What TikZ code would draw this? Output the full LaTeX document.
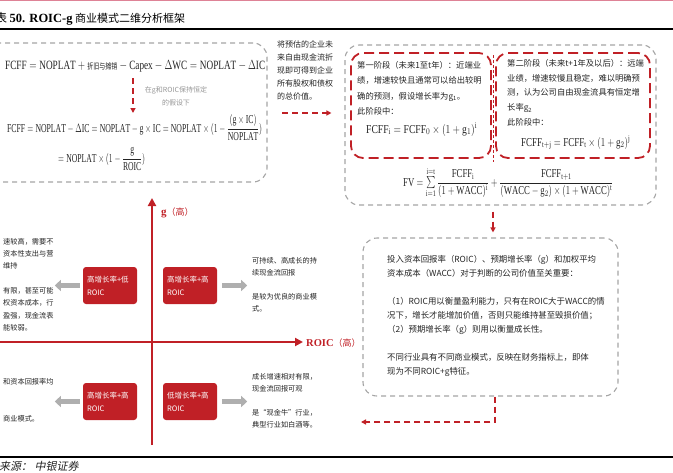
\documentclass[tikz,border=0pt]{standalone}
\usepackage{amsmath}
\usepackage{graphicx}
\usepackage{fontspec}
\setmainfont{Liberation Serif}
\newfontfamily\cjk{Noto Sans CJK SC}
\newfontfamily\cjkslant[FakeSlant=0.2]{Noto Sans CJK SC}
\usepackage{xcolor}
\usetikzlibrary{positioning}
\usetikzlibrary{arrows.meta}

\definecolor{roicred}{RGB}{192,32,38}
\definecolor{dashgray}{RGB}{165,165,165}
\definecolor{arrowgray}{RGB}{175,175,175}
\definecolor{notegray}{RGB}{150,150,150}
\definecolor{inktext}{RGB}{35,35,35}
\definecolor{pinkline}{RGB}{222,130,150}

\newcommand{\fs}[2]{\fontsize{#1}{#2}\selectfont}
\newcommand{\ur}[1]{\mathrm{#1}}
\newcommand{\fitw}[2]{\resizebox{#1}{1.1\height}{#2}}

\tikzset{
  graybox/.style={draw=dashgray, line width=1.1pt, dash pattern=on 5pt off 4pt, rounded corners=14pt},
  stagebox/.style={draw=roicred, line width=1.8pt, dash pattern=on 10pt off 5pt, rounded corners=12pt},
  redarrow/.style={draw=roicred, line width=1.4pt, dash pattern=on 6pt off 4pt, -{Triangle[width=5pt,length=5pt]}},
  axisline/.style={draw=roicred, line width=2.2pt, -{Triangle[width=8pt,length=8pt]}},
  grayarrow/.style={draw=arrowgray, line width=5pt, -{Triangle[width=11pt,length=6pt]}},
  quadbox/.style={fill=roicred, rounded corners=3pt, text=white, minimum width=54pt, minimum height=37pt,
    text width=46pt, align=left, inner sep=4pt, font=\cjk\fs{7.5}{13}},
  note/.style={anchor=north west, inner sep=0pt, align=left, text=inktext},
  formula/.style={anchor=base west, inner sep=0pt, text=inktext}
}

\begin{document}
\begin{tikzpicture}[x=1pt,y=-1pt]
  \useasboundingbox (0,0) rectangle (673,472);

  % title
  \draw[pinkline, line width=1.5pt] (0,0.5) -- (673,0.5);
  \node[anchor=base west, inner sep=0pt] (title) at (-5,22)
    {{\cjk\fs{12}{12}表}\ \textbf{\fs{12.5}{12}50. ROIC-g} {\cjk\fs{11}{12}商业模式二维分析框架}};
  \draw[black, line width=1.2pt] (0,29) -- (673,29);

  % FCFF box
  \node[graybox, minimum width=287pt, minimum height=139pt] (fcffbox) at (123.5,112.5) {};
  \node[formula] (eqa) at (5,69)
    {\fitw{260pt}{\fs{11.5}{11}$\ur{FCFF} = \ur{NOPLAT} + \hbox{\cjk\fs{7.5}{8}折旧与摊销} - \ur{Capex} - \Delta\ur{WC} = \ur{NOPLAT} - \Delta\ur{IC}$}};
  \coordinate (assume top) at (133,78);
  \coordinate (assume bot) at (133,113);
  \draw[redarrow] (assume top) -- (assume bot);
  \node[anchor=north, inner sep=0pt, align=center, text=notegray, font=\cjk\fs{7}{13}] (assume) at (176,86)
    {在g和ROIC保持恒定\\的假设下};
  \node[formula] (eqb) at (7,132)
    {\fitw{255pt}{\fs{11}{11}$\ur{FCFF} = \ur{NOPLAT} - \Delta\ur{IC} = \ur{NOPLAT} - \ur{g}\times\ur{IC} = \ur{NOPLAT}\times(1-\dfrac{(\ur{g}\times\ur{IC})}{\ur{NOPLAT}})$}};
  \node[formula] (eqc) at (58,162)
    {\fitw{87pt}{\fs{11}{11}$= \ur{NOPLAT}\times(1-\dfrac{\ur{g}}{\ur{ROIC}})$}};

  \node[note, font=\cjk\fs{8}{13}] (pv) at (277,41)
    {将预估的企业未\\来自由现金流折\\现即可得到企业\\所有股权和债权\\的总价值。};
  \coordinate (pv start) at (282,113);

  % FV box
  \node[graybox, minimum width=311pt, minimum height=160pt] (fvbox) at (500.5,125) {};
  \draw[redarrow, shorten >=13pt] (pv start) -- (pv start -| fvbox.west);
  \node[stagebox, minimum width=140pt, minimum height=105pt] (stagea) at (421,105.5) {};
  \node[stagebox, minimum width=154pt, minimum height=105pt] (stageb) at (573,105.5) {};
  \coordinate (split) at (493,55);
  \draw[roicred, line width=0.6pt, dash pattern=on 3pt off 2pt] (split) -- (493,162);
  \node[note, font=\cjk\fs{8.3}{15.5}] (stagea text) at (357,61)
    {第一阶段（未来1至t年）：近端业\\绩，增速较快且通常可以给出较明\\确的预测，假设增长率为g\textsubscript{1}。\\此阶段中：};
  \node[formula] at (366,133)
    {\fitw{111pt}{\fs{11}{11}$\ur{FCFF}_{\ur{i}} = \ur{FCFF}_0\times(1+\ur{g}_1)^{\ur{i}}$}};
  \node[note, font=\cjk\fs{8.3}{14.8}] (stageb text) at (507,59)
    {第二阶段（未来t+1年及以后）：远端\\业绩，增速较慢且稳定，难以明确预\\测，认为公司自由现金流具有恒定增\\长率g\textsubscript{2}\\此阶段中：};
  \node[formula] at (521,146)
    {\fitw{109pt}{\fs{11}{11}$\ur{FCFF}_{\ur{t+j}} = \ur{FCFF}_{\ur{t}}\times(1+\ur{g}_2)^{\ur{j}}$}};
  \node[formula] (fv) at (403,186)
    {\fitw{210pt}{\fs{11}{11}$\ur{FV} = \sum\limits_{\ur{i=1}}^{\ur{i=t}}\dfrac{\ur{FCFF}_{\ur{i}}}{(1+\ur{WACC})^{\ur{i}}} + \dfrac{\ur{FCFF}_{\ur{t+1}}}{(\ur{WACC}-\ur{g}_2)\times(1+\ur{WACC})^{\ur{t}}}$}};

  % notes box
  \node[graybox, minimum width=255pt, minimum height=158pt] (notebox) at (490.5,317) {};
  \draw[redarrow] ([yshift=-6pt]fvbox.south -| split) -- ([yshift=5pt]notebox.north -| split);
  \node[note, font=\cjk\fs{8.4}{14}] (notes) at (387,255.5)
    {投入资本回报率（ROIC）、预期增长率（g）和加权平均\\资本成本（WACC）对于判断的公司价值至关重要：\\[14pt]
     （1）ROIC用以衡量盈利能力，只有在ROIC大于WACC的情\\况下，增长才能增加价值，否则只能维持甚至毁损价值；\\
     （2）预期增长率（g）则用以衡量成长性。\\[14pt]
     不同行业具有不同商业模式，反映在财务指标上，即体\\现为不同ROIC+g特征。};
  \coordinate (back end) at (361,422);
  \draw[redarrow] ([xshift=4.5pt]notebox.south) |- (back end);

  % ROIC-g axes
  \coordinate (y bot) at (152,445);
  \coordinate (y top) at (152,198);
  \coordinate (x left) at (-5,342);
  \coordinate (x right) at (303,342);
  \draw[axisline] (y bot) -- (y top);
  \draw[axisline] (x left) -- (x right);
  \node[anchor=west, inner sep=0pt, text=roicred] (g label) at (161,213)
    {\textbf{\fs{11}{11}g}{\cjk\fs{9}{11}（高）}};
  \node[anchor=west, inner sep=0pt, text=roicred] (roic label) at (306,343)
    {\textbf{\fs{10.5}{11}ROIC}{\cjk\fs{9}{11}（高）}};

  % quadrants
  \node[quadbox] (qtl) at (110,285.5) {高增长率+低\\ROIC};
  \node[quadbox] (qtr) at (190,285.5) {高增长率+高\\ROIC};
  \node[quadbox] (qbl) at (110,401.5) {高增长率+高\\ROIC};
  \node[quadbox] (qbr) at (190,401.5) {低增长率+高\\ROIC};
  \draw[grayarrow] ([xshift=-3pt]qtl.west) -- ++(-25,0);
  \draw[grayarrow] ([xshift=5pt]qtr.east) -- ++(25,0);
  \draw[grayarrow] ([xshift=-3pt]qbl.west) -- ++(-25,0);
  \draw[grayarrow] ([xshift=5pt]qbr.east) -- ++(25,0);

  \node[note, font=\cjk\fs{7.2}{12.3}] (tl text) at (3,238)
    {速较高，需要不\\资本性支出与营\\维持\\[12.3pt]有限，甚至可能\\权资本成本，行\\盈强，现金流表\\能较弱。};
  \node[note, font=\cjk\fs{7.2}{12}] (tr text) at (252,257)
    {可持续、高成长的持\\续现金流回报\\[12pt]是较为优良的商业模\\式。};
  \node[note, font=\cjk\fs{7.2}{12}] (bl text a) at (3,378) {和资本回报率均};
  \node[note, font=\cjk\fs{7.2}{12}] (bl text b) at (3,415) {商业模式。};
  \node[note, font=\cjk\fs{7.2}{12}] (br text) at (252,373)
    {成长增速相对有限，\\现金流回报可观\\[12pt]是“现金牛”行业，\\典型行业如白酒等。};

  % source
  \draw[black, line width=1.2pt] (0,457) -- (673,457);
  \node[anchor=base west, inner sep=0pt, text=inktext, font=\cjkslant\fs{11}{11}] (source) at (-1,470)
    {来源：\ 中银证券};
\end{tikzpicture}
\end{document}
